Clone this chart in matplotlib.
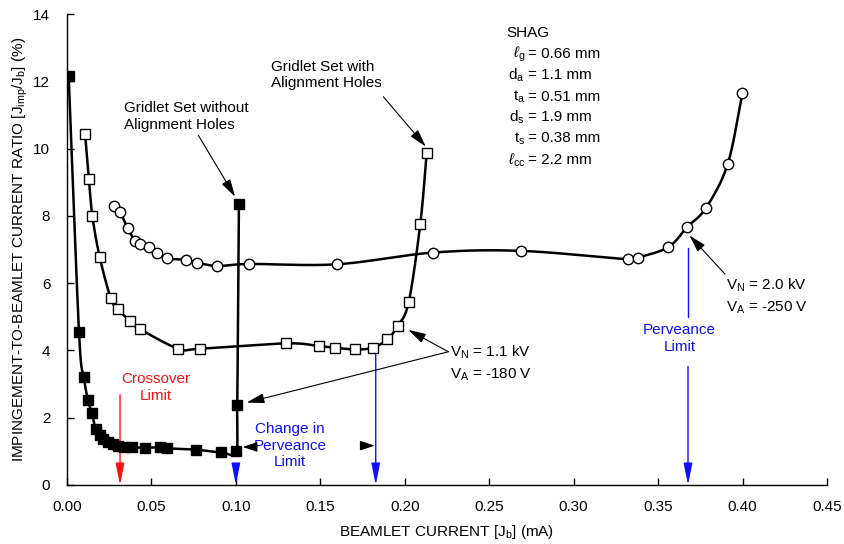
import numpy as np
import matplotlib
matplotlib.use("Agg")
import matplotlib.pyplot as plt

plt.rcParams['font.family'] = ['Liberation Sans', 'DejaVu Sans']
plt.rcParams['mathtext.fontset'] = 'custom'
plt.rcParams['mathtext.rm'] = 'Liberation Sans'
plt.rcParams['mathtext.it'] = 'Liberation Sans:italic'
plt.rcParams['mathtext.sf'] = 'Liberation Sans'

# ---- data ----
# Gridlet set without alignment holes (filled squares), V_N=1.1 kV, V_A=-180 V
no_holes_x = [0.001, 0.0071, 0.0100, 0.0124, 0.0148, 0.0170, 0.0195, 0.0215, 0.0243,
              0.0272, 0.0302, 0.0340, 0.0383, 0.0462, 0.0551, 0.0590, 0.0763, 0.0911, 0.1000,
              0.1008, 0.1018]
no_holes_y = [12.15, 4.55, 3.20, 2.53, 2.13, 1.65, 1.48, 1.38, 1.28,
              1.21, 1.17, 1.14, 1.12, 1.11, 1.12, 1.09, 1.05, 0.97, 1.00,
              2.37, 8.35]

# Gridlet set with alignment holes (open squares), V_N=1.1 kV, V_A=-180 V
holes_x = [0.0107, 0.0130, 0.0150, 0.0193, 0.0259, 0.0302, 0.0373, 0.0434, 0.0659,
           0.0789, 0.1295, 0.1492, 0.1587, 0.1707, 0.1810, 0.1897, 0.1958, 0.2023,
           0.2092, 0.2130]
holes_y = [10.43, 9.09, 8.00, 6.79, 5.55, 5.22, 4.88, 4.63, 4.05,
           4.05, 4.21, 4.13, 4.08, 4.03, 4.08, 4.33, 4.73, 5.43,
           7.77, 9.87]

# V_N=2.0 kV, V_A=-250 V (open circles)
hv_x = [0.0280, 0.0314, 0.0359, 0.0403, 0.0432, 0.0487, 0.0531, 0.0590, 0.0705,
        0.0768, 0.0890, 0.1080, 0.1597, 0.2170, 0.2686, 0.3322, 0.3381, 0.3560,
        0.3673, 0.3784, 0.3912, 0.3999]
hv_y = [8.30, 8.12, 7.63, 7.26, 7.15, 7.07, 6.91, 6.74, 6.69,
        6.61, 6.51, 6.57, 6.56, 6.91, 6.96, 6.71, 6.76, 7.07,
        7.67, 8.24, 9.54, 11.64]

crossover_limit = 0.0314
change_perv_limits = [0.1000, 0.1828]
perveance_limit = 0.3677

x_ticks = [0.00, 0.05, 0.10, 0.15, 0.20, 0.25, 0.30, 0.35, 0.40, 0.45]
y_ticks = [0, 2, 4, 6, 8, 10, 12, 14]

FS = 11

# ---- figure ----
fig = plt.figure(figsize=(8.44, 5.44), dpi=100)
ax = fig.add_axes([67/844, 59/544, 760/844, 471/544])
ax.set_xlim(0, 0.45)
ax.set_ylim(0, 14)

SX = 760/0.45
SY = 471/14.0


def smooth(xs, ys, n=30):
    P = np.column_stack([np.asarray(xs) * SX, np.asarray(ys) * SY])
    P = np.vstack([2*P[0]-P[1], P, 2*P[-1]-P[-2]])
    out = []
    t = np.linspace(0, 1, n)[:, None]
    for i in range(1, len(P)-2):
        p0, p1, p2, p3 = P[i-1], P[i], P[i+1], P[i+2]
        c1 = p1 + (p2 - p0) / 6.0
        c2 = p2 - (p3 - p1) / 6.0
        seg = ((1-t)**3)*p1 + 3*((1-t)**2)*t*c1 + 3*(1-t)*(t**2)*c2 + (t**3)*p2
        out.append(seg)
    out = np.vstack(out)
    return out[:, 0] / SX, out[:, 1] / SY


for xs, ys, mk, fc, ms in [(hv_x, hv_y, 'o', 'white', 7.5),
                            (holes_x, holes_y, 's', 'white', 7.5),
                            (no_holes_x, no_holes_y, 's', 'black', 7.5)]:
    sx, sy = smooth(xs, ys)
    ax.plot(sx, sy, color='black', lw=1.8, zorder=3)
    ax.plot(xs, ys, ls='none', marker=mk, mfc=fc, mec='black', mew=1.0, ms=ms, zorder=4)

ax.spines['top'].set_visible(False)
ax.spines['right'].set_visible(False)
ax.spines['left'].set_linewidth(1.0)
ax.spines['bottom'].set_linewidth(1.0)
ax.set_xticks(x_ticks)
ax.set_xticklabels([f"{v:.2f}" for v in x_ticks])
ax.set_yticks(y_ticks)
ax.tick_params(direction='in', length=5, width=1.0, labelsize=FS)
ax.tick_params(axis='y', pad=12)
ax.tick_params(axis='x', pad=11)

ax.set_xlabel(r"BEAMLET CURRENT [J$_{\mathrm{b}}$] (mA)", fontsize=FS)
ax.set_ylabel(r"IMPINGEMENT-TO-BEAMLET CURRENT RATIO [J$_{\mathrm{imp}}$/J$_{\mathrm{b}}$] (%)",
              fontsize=FS)
ax.yaxis.set_label_coords(-(67 - 20) / 760, 0.5)
ax.xaxis.set_label_coords(0.5, -(532 - 485) / 471)
ax.xaxis.label.set_va('center')
ax.yaxis.label.set_va('center')

blue = '#1010ff'
red = '#ff1010'
thin = dict(arrowstyle='-|>,head_length=1.1,head_width=0.22', lw=1.0, shrinkA=0, shrinkB=0,
            mutation_scale=12)

# Crossover limit
ax.annotate('', xy=(crossover_limit, 0), xytext=(crossover_limit, 2.68),
            arrowprops=dict(color=red, **thin), zorder=2)
ax.text(0.0525, 2.9, "Crossover\nLimit", color=red, ha='center', va='center',
        fontsize=FS, linespacing=1.25)

# Change in perveance limits
ax.annotate('', xy=(change_perv_limits[0], 0), xytext=(change_perv_limits[0], 0.62),
            arrowprops=dict(color=blue, **thin), zorder=2)
ax.annotate('', xy=(change_perv_limits[1], 0), xytext=(change_perv_limits[1], 4.0),
            arrowprops=dict(color=blue, **thin), zorder=2)
ax.text(0.1320, 1.17, "Change in\nPerveance\nLimit", color=blue, ha='center', va='center',
        fontsize=FS, linespacing=1.2)
blk = dict(arrowstyle='-|>,head_length=0.9,head_width=0.3', lw=0.8, color='black',
           shrinkA=0, shrinkB=0, mutation_scale=10)
ax.annotate('', xy=(0.1040, 1.13), xytext=(0.1110, 1.13), arrowprops=blk)
ax.annotate('', xy=(0.1822, 1.17), xytext=(0.1745, 1.17), arrowprops=blk)

# Perveance limit
ax.plot([perveance_limit, perveance_limit], [7.05, 5.0], color=blue, lw=1.0, zorder=2)
ax.annotate('', xy=(perveance_limit, 0), xytext=(perveance_limit, 3.52),
            arrowprops=dict(color=blue, **thin), zorder=2)
ax.text(0.3626, 4.36, "Perveance\nLimit", color=blue, ha='center', va='center',
        fontsize=FS, linespacing=1.25)

# V labels
ax.text(0.2270, 3.62, "V$_{\\mathrm{N}}$ = 1.1 kV\nV$_{\\mathrm{A}}$ = -180 V", ha='left', va='center',
        fontsize=FS, linespacing=1.4)
blk2 = dict(arrowstyle='-|>,head_length=0.9,head_width=0.25', lw=0.8, color='black',
            shrinkA=0, shrinkB=0, mutation_scale=12)
ax.annotate('', xy=(0.2021, 4.61), xytext=(0.2258, 3.96), arrowprops=blk2)
ax.annotate('', xy=(0.1064, 2.45), xytext=(0.2258, 3.96), arrowprops=blk2)

ax.text(0.3900, 5.61, "V$_{\\mathrm{N}}$ = 2.0 kV\nV$_{\\mathrm{A}}$ = -250 V", ha='left', va='center',
        fontsize=FS, linespacing=1.4)
ax.annotate('', xy=(0.3685, 7.42), xytext=(0.3896, 6.27), arrowprops=blk2)

# Gridlet labels
ax.text(0.0335, 10.95, "Gridlet Set without\nAlignment Holes", ha='left', va='center',
        fontsize=FS, linespacing=1.25)
ax.annotate('', xy=(0.0995, 8.57), xytext=(0.0777, 10.40), arrowprops=blk2)
ax.text(0.1210, 12.19, "Gridlet Set with\nAlignment Holes", ha='left', va='center',
        fontsize=FS, linespacing=1.25)
ax.annotate('', xy=(0.2124, 10.06), xytext=(0.1873, 11.54), arrowprops=blk2)

# SHAG block
ax.text(0.2603, 13.43, "SHAG", ha='left', va='center', fontsize=FS)
params_left = [r"$\ell_{\mathrm{g}}$", r"d$_{\mathrm{a}}$", r"t$_{\mathrm{a}}$",
               r"d$_{\mathrm{s}}$", r"t$_{\mathrm{s}}$", r"$\ell_{\mathrm{cc}}$"]
params_right = ["= 0.66 mm", "= 1.1 mm", "= 0.51 mm", "= 1.9 mm", "= 0.38 mm", "= 2.2 mm"]
ypx = [54.3, 75, 96.7, 117.3, 138.3, 160]
for l, r, yp in zip(params_left, params_right, ypx):
    yv = (485 - yp) / SY
    ax.text(0.2712, yv, l, ha='right', va='center', fontsize=FS)
    ax.text(0.2730, yv, r, ha='left', va='center', fontsize=FS)

fig.savefig("out.png", dpi=100)
